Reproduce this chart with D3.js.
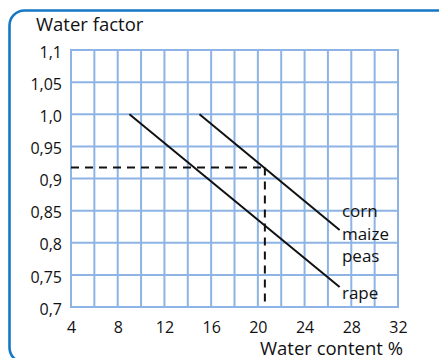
<!DOCTYPE html>
<html><head><meta charset="utf-8">
<script src="https://cdn.jsdelivr.net/npm/d3@7"></script>
<style>html,body{margin:0;padding:0;background:#fff;}svg{display:block;}</style>
</head><body>
<svg id="c" width="439" height="358"></svg>
<script>
const xTicks = [4, 8, 12, 16, 20, 24, 28, 32];
const xGrid = [4, 6, 8, 10, 12, 14, 16, 18, 20, 22, 24, 26, 28, 30, 32];
const yTicks = [0.7, 0.75, 0.8, 0.85, 0.9, 0.95, 1.0, 1.05, 1.1];
const yTickLabels = ["0,7", "0,75", "0,8", "0,85", "0,9", "0,95", "1,0", "1,05", "1,1"];
const lineCorn = [[15, 1.0], [27, 0.82]];
const lineRape = [[9, 1.0], [27, 0.731]];
const readX = 20.6;
const readY = 0.917;
const labelNames = ["corn", "maize", "peas", "rape"];
const labelY = [0.840, 0.805, 0.770, 0.713];
const labelX = 27.2;

const svg = d3.select("#c");
const x = d3.scaleLinear().domain([4, 32]).range([71, 398]);
const y = d3.scaleLinear().domain([0.7, 1.1]).range([307, 50]);
const font = "'Open Sans', sans-serif";
const grid = "#8db4e4";

// frame
svg.append("rect").attr("x", 9.5).attr("y", 10.5).attr("width", 444).attr("height", 352)
  .attr("rx", 15).attr("fill", "none").attr("stroke", "#1677c4").attr("stroke-width", 2.6);

const g = svg.append("g");
g.selectAll(".vg").data(xGrid).join("line")
  .attr("x1", d => x(d)).attr("x2", d => x(d)).attr("y1", y(1.1)).attr("y2", y(0.7))
  .attr("stroke", grid).attr("stroke-width", 2);
g.selectAll(".hg").data(yTicks).join("line")
  .attr("x1", x(4) - 1).attr("x2", x(32) + 1).attr("y1", d => y(d)).attr("y2", d => y(d))
  .attr("stroke", grid).attr("stroke-width", 2);

// axes labels
const yAxis = d3.axisLeft(y).tickValues(yTicks).tickSize(0).tickPadding(9)
  .tickFormat((d, i) => yTickLabels[i]);
const ya = svg.append("g").attr("transform", `translate(${x(4)},0)`).call(yAxis);
ya.select(".domain").remove();
ya.selectAll("text").attr("font-family", font).attr("font-size", 16).attr("fill", "#111").attr("dy", "0.45em");

const xAxis = d3.axisBottom(x).tickValues(xTicks).tickSize(0).tickPadding(15).tickFormat(d3.format("d"));
const xa = svg.append("g").attr("transform", `translate(0,${y(0.7)})`).call(xAxis);
xa.select(".domain").remove();
xa.selectAll("text").attr("font-family", font).attr("font-size", 16).attr("fill", "#111");

svg.append("text").attr("x", 36).attr("y", 31).text("Water factor")
  .attr("font-family", font).attr("font-size", 18.5).attr("fill", "#111");
svg.append("text").attr("x", 403).attr("y", 355).attr("text-anchor", "end").text("Water content %")
  .attr("font-family", font).attr("font-size", 18.5).attr("fill", "#111");

// dashed reading lines
const dash = "8,6";
svg.append("line").attr("x1", x(4)).attr("x2", x(readX)).attr("y1", y(readY)).attr("y2", y(readY))
  .attr("stroke", "#111").attr("stroke-width", 2).attr("stroke-dasharray", dash);
svg.append("line").attr("x1", x(readX)).attr("x2", x(readX)).attr("y1", y(readY)).attr("y2", y(0.7))
  .attr("stroke", "#111").attr("stroke-width", 2).attr("stroke-dasharray", dash);

const line = d3.line().x(d => x(d[0])).y(d => y(d[1]));
[lineCorn, lineRape].forEach(l => {
  svg.append("path").attr("d", line(l)).attr("fill", "none").attr("stroke", "#111").attr("stroke-width", 2);
});

svg.selectAll(".lab").data(labelNames).join("text")
  .attr("x", x(labelX)).attr("y", (d, i) => y(labelY[i])).text(d => d)
  .attr("font-family", font).attr("font-size", 17).attr("fill", "#111");
</script>
</body></html>
